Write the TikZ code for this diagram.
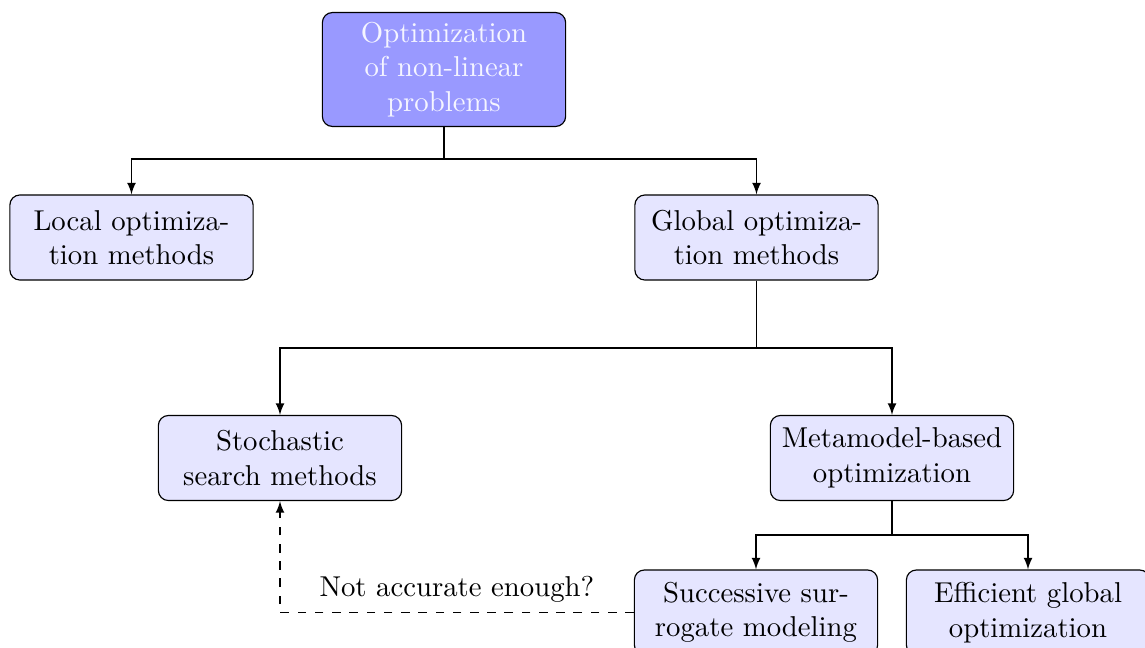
\documentclass[tikz,border=0pt]{standalone}
\usetikzlibrary{arrows}
\begin{document}
\begin{tikzpicture}[x=0.348pt,y=-0.348pt,
  box/.style={draw, rounded corners=3.5pt, fill=blue!10, align=center,
    text width=78pt, minimum height=29.6pt, inner sep=3.33pt},
  rootbox/.style={box, fill=blue!40, text=white!96!blue},
  arr/.style={-latex}]
\useasboundingbox (0,0) rectangle (1145,647);

% boxes
\node[rootbox] (root)  at (444,69.5)   {Optimization\\of non-linear\\problems};
\node[box]     (local) at (131.5,237.5) {Local optimiza-\\tion methods};
\node[box]     (glob)  at (756.5,237.5) {Global optimiza-\\tion methods};
\node[box]     (stoch) at (280,458)    {Stochastic\\search methods};
\node[box]     (meta)  at (892,458)    {Metamodel-based\\optimization};
\node[box]     (succ)  at (756,612.5)  {Successive sur-\\rogate modeling};
\node[box]     (eff)   at (1028,612.5) {Efficient global\\optimization};

% branching points
\coordinate (j1) at (444,159);
\coordinate (j2) at (756.5,348);
\coordinate (j3) at (892,535);

% tree connectors
\draw (root.south) -- (j1);
\draw[arr] (j1) -| (local.north);
\draw[arr] (j1) -| (glob.north);
\draw (glob.south) -- (j2);
\draw[arr] (j2) -| (stoch.north);
\draw[arr] (j2) -| (meta.north);
\draw (meta.south) -- (j3);
\draw[arr] (j3) -| (succ.north);
\draw[arr] (j3) -| (eff.north);

% feedback loop
\draw[dashed, arr] (succ.west) -| node[pos=0.25, above] {Not accurate enough?} (stoch.south);
\end{tikzpicture}
\end{document}
